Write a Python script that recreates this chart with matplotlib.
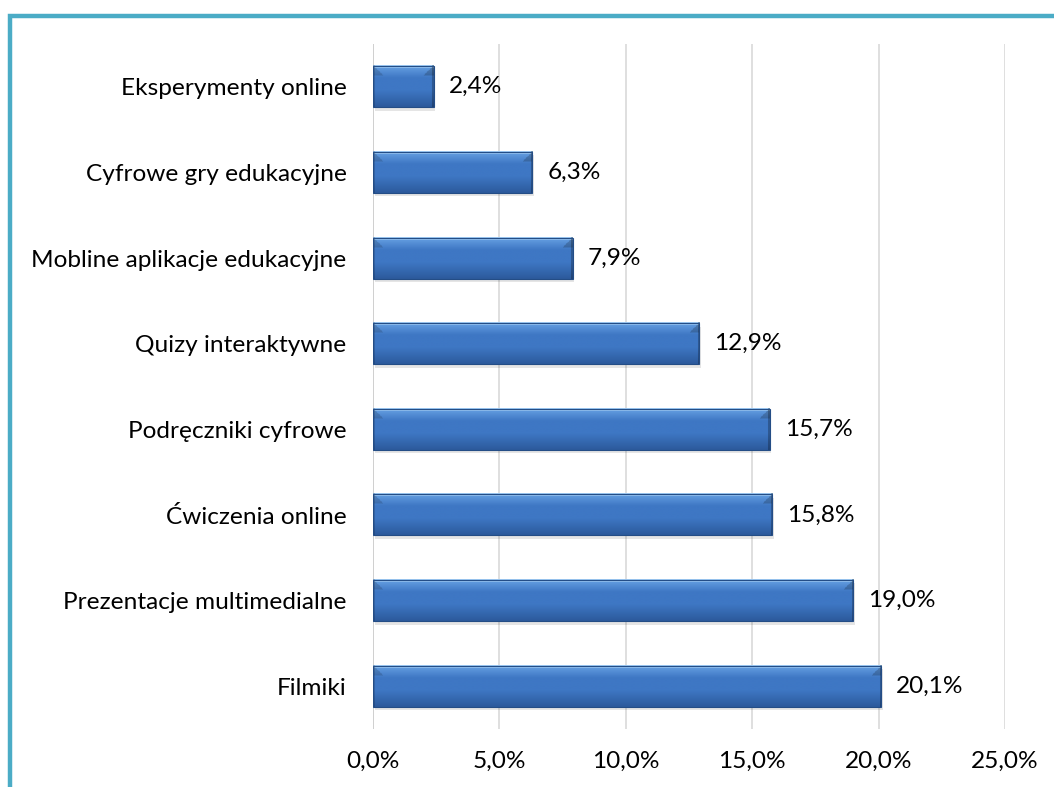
import numpy as np
import matplotlib
matplotlib.use("Agg")
import matplotlib.pyplot as plt
from matplotlib.patches import Rectangle

categories = ["Filmiki", "Prezentacje multimedialne", "Ćwiczenia online",
              "Podręczniki cyfrowe", "Quizy interaktywne",
              "Mobline aplikacje edukacyjne", "Cyfrowe gry edukacyjne",
              "Eksperymenty online"]
values = [20.1, 19.0, 15.8, 15.7, 12.9, 7.9, 6.3, 2.4]
value_labels = ["20,1%", "19,0%", "15,8%", "15,7%", "12,9%", "7,9%", "6,3%", "2,4%"]
xticks = [0, 5, 10, 15, 20, 25]
xtick_labels = ["0,0%", "5,0%", "10,0%", "15,0%", "20,0%", "25,0%"]

plt.rcParams['font.family'] = ['Lato', 'DejaVu Sans']
FS = 17.6

W, H = 1054, 787
fig = plt.figure(figsize=(W / 100, H / 100), dpi=100)
fig.patch.set_facecolor("white")

# teal frame (top and left visible)
fig.add_artist(Rectangle((9.5 / W, -0.1), 1.2, 1.1 - (16 / H),
                         transform=fig.transFigure, fill=False,
                         edgecolor="#4BACC6", linewidth=3.2))

ax = fig.add_axes([373 / W, 58 / H, 632 / W, 685 / H])
ax.set_xlim(0, 25)
ax.set_ylim(-0.5, len(categories) - 0.5)
for s in ax.spines.values():
    s.set_visible(False)
ax.axvline(0, color="#D0D0D0", lw=1.4, zorder=1)
ax.set_xticks(xticks)
ax.set_xticklabels(xtick_labels)
ax.xaxis.grid(True, color="#D9D9D9", lw=1.2)
ax.set_axisbelow(True)
ax.tick_params(axis="x", length=0, pad=16, labelsize=FS, colors="black")
ax.tick_params(axis="y", length=0, pad=19, labelsize=FS, colors="black")
ax.set_yticks(range(len(categories)))
ax.set_yticklabels(categories)

bar_h = 0.48
px_per_unit = 632 / 25.0
bar_px_h = bar_h * 685 / 8.0

# vertical colour profile (top -> bottom)
top_c = np.array([0x9c, 0xc8, 0xf2]) / 255
hi_c = np.array([0x60, 0x9a, 0xde]) / 255
mid_c = np.array([0x3e, 0x77, 0xc4]) / 255
bot_c = np.array([0x2c, 0x5a, 0x9c]) / 255
ny = 60
t = np.linspace(0, 1, ny)
prof = np.zeros((ny, 3))
for k, tt in enumerate(t):
    if tt < 0.06:
        c = top_c
    elif tt < 0.3:
        f = (tt - 0.06) / 0.24
        c = hi_c * (1 - f) + mid_c * f
    elif tt < 0.6:
        c = mid_c
    else:
        f = (tt - 0.6) / 0.4
        c = mid_c * (1 - f) + bot_c * f
    prof[k] = c

edge_c = "#244d86"
for i, v in enumerate(values):
    y0 = i - bar_h / 2
    # soft shadow
    ax.add_patch(Rectangle((0.06, y0 - 0.04), v, bar_h, facecolor="#000000",
                           alpha=0.10, lw=0, zorder=2))
    bar_px_w = v * px_per_unit
    nx = max(int(bar_px_w), 4)
    img = np.repeat(prof[:, None, :], nx, axis=1).copy()
    bev = 10.0
    xs = np.arange(nx) + 0.5
    ys = (np.arange(ny) + 0.5) / ny * bar_px_h
    XX, YY = np.meshgrid(xs, ys)
    dl = XX
    dr = nx - XX
    dt = YY
    # top-left/top-right diagonal bevels, slightly darker ends
    tl = (dl < bev) & (dt < bev) & (dl < dt)
    tr = (dr < bev) & (dt < bev) & (dr < dt)
    img[tl] = img[tl] * 0.85
    img[tr] = img[tr] * 0.80
    endl = (dl < 2.0)
    endr = (dr < 2.0)
    img[endl] = img[endl] * 0.85
    img[endr] = img[endr] * 0.75
    img = np.clip(img, 0, 1)
    ax.imshow(img, extent=(0, v, y0, y0 + bar_h), origin="upper",
              aspect="auto", interpolation="bilinear", zorder=3)
    ax.add_patch(Rectangle((0, y0), v, bar_h, fill=False, edgecolor=edge_c,
                           lw=0.8, zorder=4))
    ax.annotate(value_labels[i], xy=(v, i), xytext=(15, 0),
                textcoords="offset pixels", va="center", ha="left",
                fontsize=FS, color="black", zorder=5)

ax.set_xlim(0, 25)
ax.set_ylim(-0.5, len(categories) - 0.5)
fig.savefig("out.png", dpi=100, facecolor="white")
